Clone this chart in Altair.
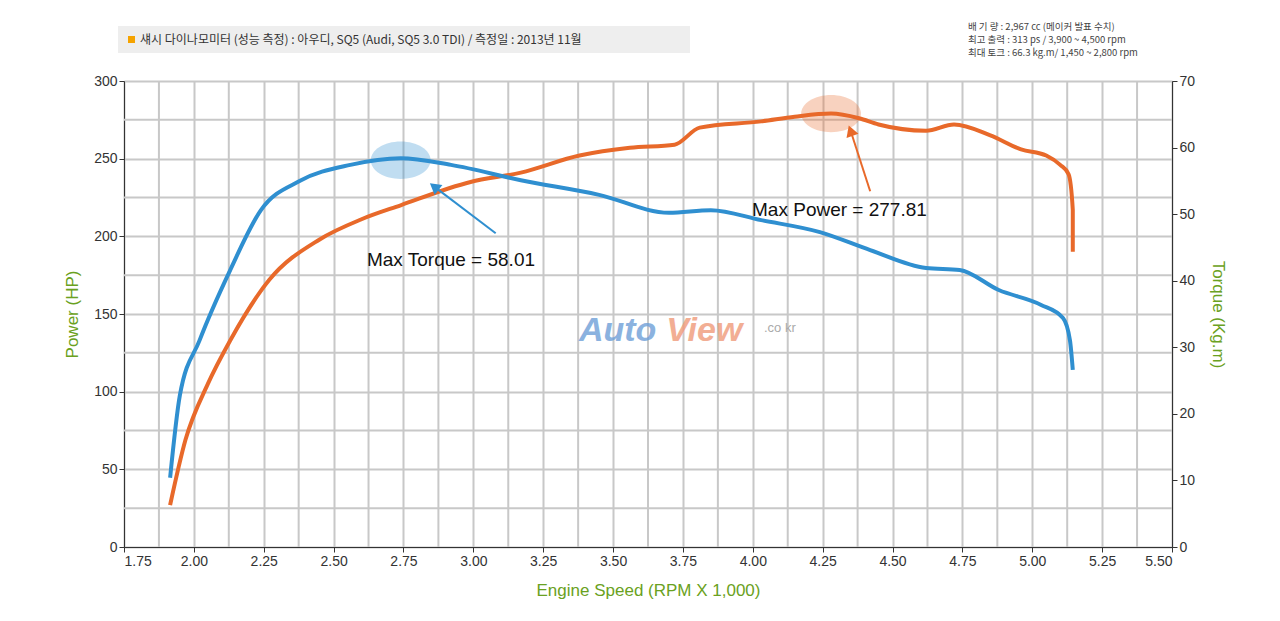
import pandas as pd
import altair as alt

# engine speed (x 1,000 rpm) and power (HP)
power_rpm = [1.915, 1.97, 2.05, 2.13, 2.27, 2.45, 2.60, 2.74, 2.99, 3.17, 3.38, 3.56, 3.72,
             3.81, 4.03, 4.15, 4.28, 4.38, 4.45, 4.62, 4.72, 4.85, 4.96, 5.05, 5.10, 5.13,
             5.145, 5.145]
power_hp = [27, 69, 105, 133, 172, 198, 211, 220, 235, 241, 252, 257, 259,
            270, 274, 277, 279, 276, 272, 268, 272, 265, 256, 252, 246, 240,
            217, 190]

# engine speed and torque (kg.m)
torque_rpm = [1.915, 1.95, 2.02, 2.13, 2.24, 2.38, 2.56, 2.74, 2.92, 3.17, 3.45, 3.70,
              3.85, 4.03, 4.24, 4.42, 4.62, 4.74, 4.88, 5.03, 5.11, 5.135, 5.145]
torque_kgm = [10.4, 22.8, 31, 41.6, 50.6, 55, 57.4, 58.4, 57.4, 55.1, 52.9, 50.2,
              50.6, 49.1, 47.3, 44.6, 41.9, 41.6, 38.6, 36.4, 34.4, 31, 26.6]

ORANGE = "#e8692a"
BLUE = "#2f8fd0"
GREEN = "#6aa121"

power = pd.DataFrame({"rpm": power_rpm, "hp": power_hp})
torque = pd.DataFrame({"rpm": torque_rpm, "kgm": torque_kgm})

xscale = alt.Scale(domain=[1.75, 5.5], nice=False, zero=False)
xax = alt.Axis(values=[1.75 + 0.25 * i for i in range(16)], format=".2f",
               title="Engine Speed (RPM X 1,000)", titleColor=GREEN, titleFontSize=17,
               titleFontWeight="normal", labelFontSize=14, labelColor="#333",
               gridColor="#c8c8c8", gridWidth=2, tickColor="#333", domainColor="#333",
               titlePadding=14)
x = alt.X("rpm:Q", scale=xscale, axis=xax)

yscale = alt.Scale(domain=[0, 300], nice=False)
yax = alt.Axis(values=list(range(0, 301, 50)), title="Power (HP)", titleColor=GREEN,
               titleFontSize=17, titleFontWeight="normal", labelFontSize=14,
               labelColor="#333", gridColor="#c8c8c8", gridWidth=2, tickColor="#333",
               domainColor="#333", titlePadding=12)

# extra grid lines halfway between ticks
minor_x = pd.DataFrame({"rpm": [1.875 + 0.25 * i for i in range(15)]})
minor_y = pd.DataFrame({"hp": [25 + 50 * i for i in range(6)]})
grid_v = alt.Chart(minor_x).mark_rule(color="#c8c8c8", strokeWidth=2).encode(x=x)
grid_h = alt.Chart(minor_y).mark_rule(color="#c8c8c8", strokeWidth=2).encode(
    y=alt.Y("hp:Q", scale=yscale, axis=yax))

ellipse = "M -1.6 0 A 1.6 1 0 1 0 1.6 0 A 1.6 1 0 1 0 -1.6 0 Z"
marks = pd.DataFrame({"rpm": [2.74, 4.28], "hp": [249, 279], "c": [BLUE, ORANGE]})
blobs = alt.Chart(marks).mark_point(shape=ellipse, filled=True, size=1400, opacity=0.3).encode(
    x=x, y=alt.Y("hp:Q", scale=yscale), color=alt.Color("c:N", scale=None))

arrows = pd.DataFrame({"rpm": [3.08, 4.42], "hp": [202, 229], "rpm2": [2.86, 4.35],
                       "hp2": [232, 268], "c": [BLUE, ORANGE]})
arrow_lines = alt.Chart(arrows).mark_rule(strokeWidth=2).encode(
    x=x, y=alt.Y("hp:Q", scale=yscale), x2="rpm2:Q", y2="hp2:Q",
    color=alt.Color("c:N", scale=None))
heads = pd.DataFrame({"rpm": [2.86, 4.35], "hp": [232, 268], "a": [-52, -20], "c": [BLUE, ORANGE]})
arrow_heads = alt.Chart(heads).mark_point(shape="triangle-up", filled=True, size=160, opacity=1).encode(
    x=x, y=alt.Y("hp:Q", scale=yscale), angle=alt.Angle("a:Q", scale=None),
    color=alt.Color("c:N", scale=None))

labels = pd.DataFrame({"rpm": [2.92, 4.31], "hp": [185, 217],
                       "t": ["Max Torque = 58.01", "Max Power = 277.81"]})
label_text = alt.Chart(labels).mark_text(fontSize=19, font="Liberation Sans", color="#111").encode(
    x=x, y=alt.Y("hp:Q", scale=yscale), text="t:N")

wm_auto = pd.DataFrame({"rpm": [3.655], "hp": [139], "t": ["Auto"]})
wm_view = pd.DataFrame({"rpm": [3.69], "hp": [139], "t": ["View"]})
wm_co = pd.DataFrame({"rpm": [4.04], "hp": [141], "t": [".co kr"]})
wm_style = dict(fontStyle="italic", fontWeight="bold", font="Liberation Sans", opacity=0.8)
watermark = alt.layer(
    alt.Chart(wm_auto).mark_text(align="right", fontSize=34, color="#6fa0d8", **wm_style).encode(
        x=x, y=alt.Y("hp:Q", scale=yscale), text="t:N"),
    alt.Chart(wm_view).mark_text(align="left", fontSize=34, color="#f09a7a", **wm_style).encode(
        x=x, y=alt.Y("hp:Q", scale=yscale), text="t:N"),
    alt.Chart(wm_co).mark_text(align="left", fontSize=13, color="#aaa", font="Liberation Sans").encode(
        x=x, y=alt.Y("hp:Q", scale=yscale), text="t:N"),
)

power_line = alt.Chart(power).mark_line(color=ORANGE, strokeWidth=4, interpolate="monotone").encode(
    x=x, y=alt.Y("hp:Q", scale=yscale, axis=yax))

left = alt.layer(grid_v, grid_h, power_line, blobs, arrow_lines, arrow_heads, label_text, watermark)

torque_line = alt.Chart(torque).mark_line(color=BLUE, strokeWidth=4, interpolate="monotone").encode(
    x=x, y=alt.Y("kgm:Q", scale=alt.Scale(domain=[0, 70], nice=False),
                 axis=alt.Axis(values=list(range(0, 71, 10)), orient="right", grid=False,
                               title="Torque (Kg.m)", titleColor=GREEN, titleFontSize=17,
                               titleFontWeight="normal", labelFontSize=14, labelColor="#333",
                               tickColor="#333", domainColor="#333", titlePadding=14,
                               titleAngle=90)))

# header
hdr = pd.DataFrame({"t": ["섀시 다이나모미터 (성능 측정)  :  아우디, SQ5  (Audi, SQ5 3.0 TDI) / 측정일 : 2013년 11월"]})
hdr_box = alt.Chart(hdr).mark_rect(color="#eeeeee").encode(
    x=alt.value(-6), x2=alt.value(566), y=alt.value(-55), y2=alt.value(-28))
hdr_sq = alt.Chart(hdr).mark_rect(color="#f5a300").encode(
    x=alt.value(4), x2=alt.value(11), y=alt.value(-45), y2=alt.value(-38))
hdr_text = alt.Chart(hdr).mark_text(align="left", fontSize=12, font="Noto Sans CJK KR",
                                    color="#333").encode(
    x=alt.value(16), y=alt.value(-41), text="t:N")
specs = pd.DataFrame({"t": ["배 기 량 : 2,967 cc   (메이커 발표 수치)",
                            "최고 출력 : 313  ps / 3,900 ~ 4,500 rpm",
                            "최대 토크 : 66.3 kg.m/ 1,450 ~ 2,800 rpm"],
                      "i": [0, 1, 2]})
spec_text = alt.Chart(specs).mark_text(align="left", fontSize=9.5, font="Noto Sans CJK KR",
                                       color="#444").encode(
    x=alt.value(844), y=alt.Y("i:O", scale=alt.Scale(range=[-61, -21]), axis=None), text="t:N")
header = alt.layer(hdr_box, hdr_sq, hdr_text, spec_text)

chart = alt.layer(left, torque_line, header).resolve_scale(y="independent").properties(
    width=1048, height=466, padding={"left": 116, "top": 73, "right": 100, "bottom": 70},
    autosize=alt.AutoSizeParams(type="none"),
).configure_view(stroke="#333", strokeWidth=1.5).configure(background="white")

chart.save("out.html", embed_options={"renderer": "svg", "actions": False})
